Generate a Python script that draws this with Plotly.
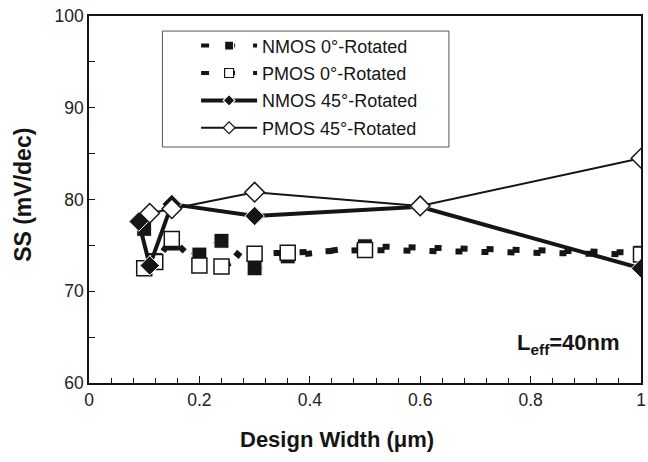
import plotly.graph_objects as go

# ---- data ----
nmos0_x = [0.10, 0.12, 0.15, 0.20, 0.24, 0.30, 0.36, 0.50, 1.00]
nmos0_y = [76.8, 73.4, 75.2, 74.0, 75.5, 72.5, 73.8, 74.9, 74.2]
pmos0_x = [0.10, 0.12, 0.15, 0.20, 0.24, 0.30, 0.36, 0.50, 1.00]
pmos0_y = [72.5, 73.2, 75.7, 72.8, 72.7, 74.1, 74.2, 74.5, 74.0]
nmos45_x = [0.09, 0.11, 0.15, 0.30, 0.60, 1.00]
nmos45_y = [77.6, 72.8, 79.5, 78.2, 79.2, 72.5]
pmos45_x = [0.11, 0.15, 0.30, 0.60, 1.00]
pmos45_y = [78.5, 79.0, 80.8, 79.3, 84.5]

names = ["NMOS 0°-Rotated", "PMOS 0°-Rotated", "NMOS 45°-Rotated", "PMOS 45°-Rotated"]
x_ticks = [0, 0.2, 0.4, 0.6, 0.8, 1]
x_tick_text = ["0", "0.2", "0.4", "0.6", "0.8", "1"]
y_ticks = [60, 70, 80, 90, 100]

FONT = "Arial, Liberation Sans, sans-serif"
BLK = "#151515"

series = [
    (nmos0_x, nmos0_y, dict(width=6, dash="7px,19px"), dict(width=4, dash="8px,18px"),
     dict(symbol="square", color=BLK, line=dict(color="white", width=1))),
    (pmos0_x, pmos0_y, dict(width=6, dash="7px,19px"), dict(width=4, dash="8px,18px"),
     dict(symbol="square", color="white", line=dict(color=BLK, width=1.5))),
    (nmos45_x, nmos45_y, dict(width=4), dict(width=4),
     dict(symbol="diamond", color=BLK, line=dict(color="white", width=1))),
    (pmos45_x, pmos45_y, dict(width=2), dict(width=2),
     dict(symbol="diamond", color="white", line=dict(color=BLK, width=1.5))),
]

fig = go.Figure()
# data traces (not in legend)
for (xs, ys, ln, lg_ln, mk), nm in zip(series, names):
    fig.add_trace(go.Scatter(
        x=xs, y=ys, name=nm, mode="lines+markers", showlegend=False,
        line=dict(color=BLK, **ln), marker=dict(size=15, **mk)))
# legend-only entries with smaller legend symbols
for i, ((xs, ys, ln, lg_ln, mk), nm) in enumerate(zip(series, names)):
    mk_l = dict(mk)
    mk_l["line"] = dict(mk["line"], width=1.2)
    fig.add_trace(go.Scatter(
        x=[None], y=[None], name=nm, mode="lines+markers", legendgroup=f"g{i}",
        line=dict(color=BLK, **lg_ln), marker=dict(size=9, **mk_l)))

fig.update_layout(
    width=648, height=462,
    margin=dict(l=89, r=2, t=16, b=79),
    paper_bgcolor="white", plot_bgcolor="white",
    font=dict(family=FONT, color=BLK),
    showlegend=True,
    legend=dict(x=0.194, y=0.969, xanchor="left", yanchor="top",
                bgcolor="rgba(0,0,0,0)", borderwidth=0,
                font=dict(size=18, family=FONT, color=BLK),
                tracegroupgap=1, itemwidth=56, itemsizing="trace"),
    shapes=[dict(type="rect", xref="paper", yref="paper",
                 x0=0.133, x1=0.652, y0=0.643, y1=0.959,
                 line=dict(color="#555", width=1), fillcolor="rgba(0,0,0,0)")],
    annotations=[
        dict(xref="paper", yref="paper", x=0.965, y=0.105,
             xanchor="right", yanchor="middle", showarrow=False,
             text="<b>L<sub>eff</sub>=40nm</b>",
             font=dict(size=22, family=FONT, color=BLK)),
        dict(xref="paper", yref="paper", x=0.45, y=-0.155,
             xanchor="center", yanchor="middle", showarrow=False,
             text="<b>Design Width (μm)</b>",
             font=dict(size=22, family=FONT, color=BLK)),
        dict(xref="paper", yref="paper", x=-0.120, y=0.512,
             xanchor="center", yanchor="middle", showarrow=False, textangle=-90,
             text="<b>SS (mV/dec)</b>",
             font=dict(size=23, family=FONT, color=BLK)),
    ],
)
fig.update_xaxes(
    range=[0, 1], tickvals=x_ticks, ticktext=x_tick_text,
    showline=True, linecolor=BLK, linewidth=1.5, mirror=True,
    ticks="inside", ticklen=7, tickcolor=BLK, tickwidth=1,
    minor=dict(dtick=0.04, ticks="inside", ticklen=5, tickcolor=BLK, tickwidth=1),
    showgrid=False, zeroline=False, ticklabeloverflow="allow",
    tickfont=dict(size=17.5, family=FONT, color="#222"),
)
fig.update_yaxes(
    range=[60, 100], tickvals=y_ticks,
    showline=True, linecolor=BLK, linewidth=1.5, mirror=True,
    ticks="inside", ticklen=6, tickcolor=BLK, tickwidth=1,
    minor=dict(dtick=5, ticks="inside", ticklen=6, tickcolor=BLK, tickwidth=1),
    showgrid=False, zeroline=False, ticklabeloverflow="allow",
    tickfont=dict(size=17.5, family=FONT, color="#222"),
)
fig.write_html(
    "out.html",
    config={"displayModeBar": False},
    post_script="document.body.style.margin='0';document.body.style.overflow='hidden';",
)
